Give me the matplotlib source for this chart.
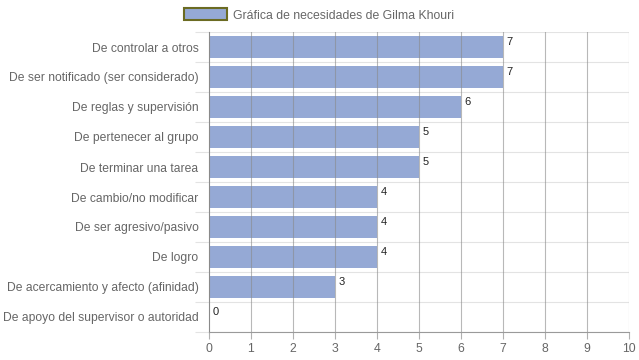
import numpy as np
import matplotlib.pyplot as plt
from matplotlib.patches import Patch

plt.rcParams['font.family'] = ['Liberation Sans', 'DejaVu Sans']

categorias = ['De controlar a otros',
              'De ser notificado (ser considerado)',
              'De reglas y supervisión',
              'De pertenecer al grupo',
              'De terminar una tarea',
              'De cambio/no modificar',
              'De ser agresivo/pasivo',
              'De logro',
              'De acercamiento y afecto (afinidad)',
              'De apoyo del supervisor o autoridad']
valores = [7, 7, 6, 5, 5, 4, 4, 4, 3, 0]
serie = 'Gráfica de necesidades de Gilma Khouri'

color_barra = '#95a9d5'
gris = '#666666'

fig = plt.figure(figsize=(6.39, 3.6), dpi=100)
ax = fig.add_axes([209/639, 1 - 332/360, 420/639, 300/360])

y = np.arange(len(categorias))
ax.barh(y, valores, height=0.72, color=color_barra, zorder=1)

for yi, v in zip(y, valores):
    ax.text(v + 0.08, yi - 0.34, str(v), fontsize=8, color='#222222',
            va='top', ha='left', zorder=4)

ax.set_xlim(0, 10)
ax.set_ylim(len(categorias) - 0.5, -0.5)
ax.set_xticks(range(0, 11))
ax.set_yticks(y)
ax.set_yticklabels(categorias)
ax.set_yticks(np.arange(-0.5, len(categorias)), minor=True)

# rejilla vertical por encima de las barras
for xv in range(1, 11):
    ax.axvline(xv, color='#8a8a8a', lw=0.8, alpha=0.6, zorder=3)
ax.grid(axis='y', which='minor', color='#e3e3e3', lw=0.8, zorder=0)

ax.tick_params(axis='y', which='major', length=0, pad=7.5, labelsize=8.7, labelcolor=gris)
ax.tick_params(axis='y', which='minor', length=10, color='#e3e3e3', width=0.8)
ax.tick_params(axis='x', length=5, color='#b0b0b0', pad=3, labelsize=8.8, labelcolor=gris)

for s in ['top', 'right']:
    ax.spines[s].set_visible(False)
ax.spines['left'].set_color('#8a8a8a')
ax.spines['left'].set_linewidth(0.8)
ax.spines['bottom'].set_color('#9a9a9a')
ax.spines['bottom'].set_linewidth(0.8)

leg_patch = Patch(facecolor=color_barra, edgecolor='#6b6b22', linewidth=1.5, label=serie)
fig.legend(handles=[leg_patch], loc='center', bbox_to_anchor=(0.5, 1 - 15/360),
           frameon=False, fontsize=8.8, labelcolor=gris, handlelength=3.5,
           handleheight=1.1, handletextpad=0.5)

fig.savefig('out.png', dpi=100)
